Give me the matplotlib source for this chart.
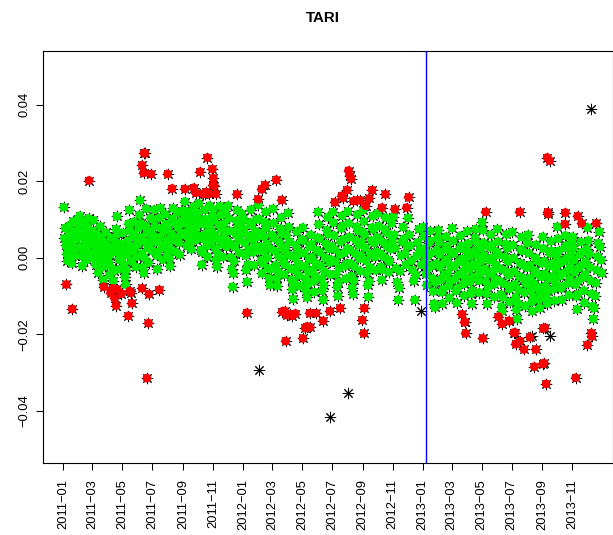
import numpy as np
import pandas as pd
import matplotlib
matplotlib.use("Agg")
import matplotlib.pyplot as plt
import matplotlib.dates as mdates

plt.rcParams['font.family'] = ['Liberation Sans', 'DejaVu Sans']

# ---------------- data (values in units of 0.001) ----------------
green_months = ['2011-01', '2011-02', '2011-03', '2011-04', '2011-05', '2011-06',
                '2011-07', '2011-08', '2011-09', '2011-10', '2011-11', '2011-12',
                '2012-01', '2012-02', '2012-03', '2012-04', '2012-05', '2012-06',
                '2012-07', '2012-08', '2012-09', '2012-10', '2012-11', '2012-12',
                '2013-01', '2013-02', '2013-03', '2013-04', '2013-05', '2013-06',
                '2013-07', '2013-08', '2013-09', '2013-10', '2013-11', '2013-12']

green_values = [
    [13.2, 5.1, 7.8, 3.2, 1.0, -0.8, 2.5, 6.0, 8.4, 4.3, 0.2, -1.5, 3.8, 9.5, 6.7, 2.0, 0.5, 4.8, 7.2, 10.1, 5.5],
    [8.8, 11.0, 6.2, 3.0, 0.4, -2.1, 1.8, 5.0, 9.6, 7.4, 2.6, -0.6, 4.1, 8.0, 10.3, 6.5, 1.2, 3.5, 5.8, 0.0],
    [7.0, 9.8, 4.5, 1.3, -1.8, 2.9, 6.1, 0.4, -3.9, -1.0, 3.3, 8.2, 5.2, 1.9, -2.5, -5.8, -0.3, 2.2, 4.0, 6.6, 0.8, -2.0],
    [3.0, -1.2, -4.5, 0.8, 5.2, 2.4, -2.8, -6.0, -3.5, 1.5, 4.0, 7.5, 10.8, 6.2, 2.0, -0.5, -3.0, 1.0, 3.6, 0.0],
    [6.5, 2.3, -1.8, -5.0, -7.0, -3.2, 0.8, 4.4, 8.9, 12.5, 7.2, 3.0, -0.9, 1.7, 5.6, 9.4, 6.1, 2.5, -2.4, 0.3, 4.0],
    [3.5, 7.8, 11.2, 15.0, 9.0, 5.4, 1.1, -2.5, -4.0, 0.0, 4.2, 8.3, 12.8, 6.7, 2.6, -1.3, 3.1, 7.0, 10.4, 5.0, 1.8],
    [6.0, 9.9, 12.6, 8.2, 4.1, 0.6, -3.0, 1.5, 5.3, 10.5, 13.0, 7.6, 3.2, -0.5, 2.8, 6.9, 11.4, 8.8, 4.6, 1.0],
    [7.3, 3.4, -0.2, -2.2, 2.1, 6.2, 10.2, 12.9, 9.1, 5.0, 1.6, 4.5, 8.6, 11.8, 7.9, 3.9, 0.8, 5.8, 9.6, 12.2, 6.4],
    [9.0, 12.3, 14.7, 10.8, 6.6, 3.1, 5.4, 8.8, 12.0, 7.4, 4.0, 2.2, 6.0, 9.9, 13.4, 11.1, 7.0, 4.6, 8.2, 10.6],
    [11.8, 14.2, 9.5, 5.6, 2.0, -1.8, 1.4, 4.9, 8.7, 12.5, 10.1, 6.3, 3.0, 0.3, 5.0, 9.2, 13.6, 7.7, 4.2, 6.9, 11.0],
    [12.6, 9.8, 6.0, 2.4, -0.6, -2.3, 1.2, 4.8, 8.6, 13.5, 11.2, 7.4, 3.5, 0.2, 5.2, 9.0, 12.1, 6.8, 2.9, 4.4],
    [13.6, 10.3, 7.0, 3.6, 0.1, -3.0, -7.6, -4.1, -0.9, 2.8, 6.2, 9.7, 12.4, 8.0, 4.5, 1.3, 5.7, 9.1, 11.5, 6.6],
    [10.4, 7.5, 3.9, 0.6, -3.2, -6.3, -1.8, 2.2, 5.8, 9.2, 12.6, 8.5, 4.7, 1.4, -2.0, 3.0, 6.9, 10.0, 5.3, 1.9],
    [13.8, 10.1, 6.4, 2.9, -0.7, -4.1, -1.5, 1.6, 5.5, 9.3, 12.0, 7.8, 3.6, 0.0, -2.8, -5.3, -7.1, -3.0, 2.2, 6.0],
    [12.8, 9.0, 5.1, 1.7, -2.0, -5.4, -7.4, -3.6, 0.3, 4.0, 7.6, 10.5, 6.3, 2.4, -1.0, -4.4, -1.8, 2.8, 5.9, 0.9],
    [11.7, 8.0, 4.2, 0.6, -2.9, -5.8, -8.3, -10.8, -6.5, -3.3, 0.0, 3.3, 6.8, 2.0, -1.6, -4.6, -7.4, -2.2, 1.2, 4.8],
    [7.9, 4.5, 1.2, -2.2, -5.6, -8.8, -10.4, -7.0, -3.8, -0.4, 2.8, 6.0, 3.5, 0.1, -3.2, -6.2, -9.0, -4.8, -1.4, 2.0, 5.2],
    [12.0, 8.7, 5.0, 1.4, -2.1, -5.5, -8.6, -11.0, -7.2, -3.6, 0.0, 3.6, 7.2, 10.6, 6.1, 2.3, -1.2, -4.4, -0.5, 3.0],
    [11.9, 9.2, 5.8, 2.2, -1.0, -4.3, -7.6, -10.0, -6.4, -2.7, 0.8, 4.2, 7.7, 11.0, 8.4, 4.8, 1.3, -2.2, -5.5, -1.6, 2.4],
    [12.1, 9.0, 5.4, 2.0, -1.5, -4.8, -7.9, -9.5, -5.9, -2.3, 1.1, 4.6, 8.1, 11.3, 7.0, 3.3, -0.2, -3.5, 0.6, 4.0, 6.8],
    [12.4, 9.5, 6.1, 2.6, -0.8, -4.0, -7.2, -10.2, -6.2, -2.5, 1.0, 4.5, 7.9, 10.9, 7.4, 3.8, 0.2, -3.3, 1.5, 5.3],
    [11.6, 8.3, 4.7, 1.1, -2.4, -5.8, -3.1, 0.3, 3.9, 7.4, 10.5, 6.6, 2.9, -0.5, -3.8, -1.0, 2.2, 5.8, 9.0, 4.2],
    [10.7, 6.0, 2.5, -2.8, -6.4, -11.0, -7.8, -3.5, 0.6, 4.2, 8.0, 5.0, 1.0, -1.8, 3.0],
    [10.4, 6.0, 3.2, -0.8, -3.2, -6.0, -11.0, -4.5, 0.5, 4.0, 7.5, 2.0, -1.8, 1.2],
    [8.0, 5.6, 2.4, -0.9, -4.3, -7.1, -3.0, 0.5, 3.9, 7.0, 4.4, 1.2, -2.2, -5.4, -8.8, -12.0, -13.0, -6.5, -1.5, 2.0, 5.2],
    [7.2, 4.0, 0.8, -2.5, -5.8, -9.0, -12.0, -8.2, -4.6, -1.2, 2.1, 5.5, 3.0, -0.4, -3.9, -7.3, -10.5, -6.0, -2.0, 1.5],
    [7.7, 4.4, 1.1, -2.3, -5.6, -8.7, -11.8, -8.0, -4.5, -1.1, 2.4, 5.8, 3.1, -0.3, -3.6, -6.9, -9.9, -5.2, -1.8, 1.6],
    [6.9, 3.7, 0.3, -3.0, -6.3, -9.4, -12.0, -8.6, -5.0, -1.6, 1.8, 5.2, 7.5, 4.0, 0.6, -2.7, -6.0, -9.1, -4.3, -0.8, 2.5],
    [9.3, 7.2, 3.9, 0.5, -2.9, -6.2, -9.4, -12.0, -7.9, -4.2, -0.7, 2.7, 6.0, 3.4, 0.0, -3.5, -7.0, -10.3, -5.5, -1.8, 1.6],
    [7.5, 4.2, 0.7, -2.8, -6.2, -9.6, -12.8, -14.0, -10.4, -6.8, -3.3, 0.2, 3.6, 6.1, 2.5, -1.0, -4.6, -8.2, -11.6, -7.4, -3.8],
    [6.7, 3.3, -0.1, -3.6, -7.0, -10.3, -13.6, -16.0, -12.0, -8.4, -4.9, -1.4, 2.1, 5.4, 1.8, -1.9, -5.5, -9.1, -12.6, -6.8, -2.6],
    [3.8, 6.0, 1.2, -2.0, -5.3, -8.5, -11.6, -14.0, -10.2, -6.7, -3.3, 0.0, 3.4, -0.8, -4.2, -7.7, -11.0, -13.2, -9.0, -5.0, -1.5],
    [5.5, 2.4, -0.9, -4.2, -7.4, -10.5, -12.0, -8.8, -5.5, -2.2, 1.1, 4.3, 1.8, -1.5, -4.9, -8.2, -11.2, -6.5, -3.0, 0.4],
    [8.1, 5.0, 1.8, -1.5, -4.8, -8.0, -11.0, -7.5, -4.1, -0.8, 2.5, 5.8, 3.2, -0.1, -3.4, -6.7, -9.8, -5.6, -2.3, 1.0, 4.5],
    [5.5, 2.6, -0.6, -3.8, -7.0, -10.1, -13.5, -9.6, -6.0, -2.6, 0.8, 4.1, 1.4, -1.9, -5.2, -8.6, -11.8, -4.4, -1.0, 2.3],
    [7.9, 4.5, 1.0, -2.5, -6.0, -9.4, -12.7, -16.0, -13.2, -10.0, -6.6, -3.2, 0.3, 3.8, 6.8, 2.9, -0.6, -4.0],
]

red_dates = ['2011-02-22', '2011-06-10', '2011-06-14', '2011-06-16', '2011-06-13', '2011-06-28',
             '2011-08-01', '2011-08-10', '2011-09-05', '2011-09-23', '2011-09-27', '2011-10-06',
             '2011-10-12', '2011-10-17', '2011-10-19', '2011-10-21', '2011-10-24', '2011-10-31',
             '2011-11-02', '2011-11-01', '2011-11-04', '2011-11-07', '2011-12-20', '2012-02-01',
             '2012-02-08', '2012-02-15', '2012-03-09', '2012-03-20', '2012-07-06', '2012-07-20',
             '2012-07-23', '2012-07-31', '2012-08-03', '2012-08-06', '2012-08-08', '2012-08-13',
             '2012-08-20', '2012-08-27', '2012-09-07', '2012-09-14', '2012-09-20', '2012-10-10',
             '2012-10-17', '2012-11-05', '2012-11-29', '2012-12-03', '2013-05-09', '2013-07-17',
             '2013-09-11', '2013-09-16', '2013-09-12', '2013-09-13', '2013-10-17', '2013-10-18',
             '2013-11-12', '2013-11-20', '2013-12-20',
             '2011-01-07', '2011-01-19', '2011-03-24', '2011-04-07', '2011-04-11', '2011-04-15',
             '2011-04-18', '2011-04-20', '2011-04-29', '2011-05-16', '2011-05-18', '2011-05-20',
             '2011-05-13', '2011-06-10', '2011-06-24', '2011-06-23', '2011-06-20', '2011-07-15',
             '2012-01-09', '2012-03-21', '2012-03-26', '2012-03-30', '2012-03-28', '2012-04-05',
             '2012-04-11', '2012-04-17', '2012-05-02', '2012-05-07', '2012-05-11', '2012-05-17',
             '2012-05-16', '2012-05-29', '2012-06-12', '2012-06-26', '2012-07-17', '2012-08-31',
             '2012-09-03', '2012-09-04', '2013-03-22', '2013-03-27', '2013-03-28', '2013-03-29',
             '2013-05-03', '2013-06-04', '2013-06-11', '2013-06-25', '2013-06-26', '2013-07-05',
             '2013-07-08', '2013-07-09', '2013-07-18', '2013-07-26', '2013-08-07', '2013-08-19',
             '2013-08-16', '2013-09-02', '2013-09-05', '2013-09-09', '2013-09-03', '2013-09-06',
             '2013-11-08', '2013-12-02', '2013-12-10', '2013-12-11']
red_values = [20.2, 24.2, 27.4, 27.3, 22.2, 21.9,
              21.9, 18.1, 18.0, 18.3, 17.0, 22.5,
              16.7, 16.8, 17.2, 26.2, 16.7, 23.2,
              20.8, 19.0, 18.8, 16.7, 16.6, 15.3,
              17.9, 19.0, 20.4, 15.1, 14.5, 16.2,
              15.7, 17.7, 22.8, 21.4, 20.6, 14.8,
              15.0, 15.0, 13.6, 15.5, 17.7, 13.1,
              16.6, 12.7, 13.1, 15.8, 12.0, 12.0,
              26.2, 25.4, 11.9, 11.4, 8.8, 11.8,
              10.9, 9.0, 9.0,
              -7.0, -13.4, -7.6, -9.2, -8.0, -10.6,
              -12.5, -8.2, -9.4, -8.7, -9.2, -11.9,
              -15.2, -8.0, -9.5, -17.1, -31.5, -8.4,
              -14.4, -14.1, -13.9, -15.0, -21.8, -14.8,
              -15.2, -14.6, -21.1, -18.4, -18.0, -18.2,
              -14.5, -14.5, -16.5, -14.0, -13.2, -16.3,
              -19.8, -13.2, -14.8, -16.9, -16.8, -19.8,
              -21.1, -15.4, -17.3, -16.5, -16.6, -19.6,
              -19.6, -22.6, -21.8, -24.0, -20.8, -24.0,
              -28.5, -27.8, -27.6, -33.0, -18.5, -18.3,
              -31.4, -22.8, -19.7, -20.6]

black_dates = ['2012-02-03', '2012-06-27', '2012-08-02', '2012-12-28', '2013-08-12', '2013-09-16', '2013-12-09']
black_values = [-29.5, -41.7, -35.3, -13.9, -20.5, -20.4, 39.0]

break_date = '2013-01-08'
tick_months = ['2011-01', '2011-03', '2011-05', '2011-07', '2011-09', '2011-11',
               '2012-01', '2012-03', '2012-05', '2012-07', '2012-09', '2012-11',
               '2013-01', '2013-03', '2013-05', '2013-07', '2013-09', '2013-11']
y_ticks = [-0.04, -0.02, 0.0, 0.02, 0.04]
y_tick_labels = ['\u22120.04', '\u22120.02', '0.00', '0.02', '0.04']
title = 'TARI'

# ---------------- build point arrays ----------------
gx, gy = [], []
for m, vals in zip(green_months, green_values):
    start = pd.Timestamp(m + '-01')
    end = start + pd.offsets.MonthBegin(1)
    n = len(vals)
    for i, v in enumerate(vals):
        d = start + (end - start) * ((i + 0.5) / n)
        gx.append(mdates.date2num(d))
        gy.append(v / 1000.0)
gx = np.array(gx); gy = np.array(gy)
rx = mdates.date2num(pd.to_datetime(red_dates)); ry = np.array(red_values) / 1000.0
bx = mdates.date2num(pd.to_datetime(black_dates)); by = np.array(black_values) / 1000.0

W, H = 613, 535
fig = plt.figure(figsize=(W / 100, H / 100), dpi=100)
L, R_, T, B = 42.5, 613, 51.3, 463
ax = fig.add_axes([L / W, 1 - B / H, (R_ - L) / W, (B - T) / H])

allx = np.concatenate([gx, rx, bx]); ally = np.concatenate([gy, ry, by])
ax.scatter(allx, ally, marker=(8, 2, 0), s=58, c='black', linewidths=0.7, zorder=2)
ax.scatter(gx, gy, marker='o', s=40, c='#00EE00', edgecolors='none', zorder=3)
ax.scatter(rx, ry, marker='o', s=40, c='#FF0000', edgecolors='none', zorder=4)
ax.axvline(mdates.date2num(pd.Timestamp(break_date)), color='#0000FF', lw=1.0, zorder=5)

x0 = mdates.date2num(pd.Timestamp('2011-01-01'))
ppd = 0.4916
ax.set_xlim(x0 - (63.4 - L) / ppd, x0 + (R_ - 63.4) / ppd)
ax.set_ylim(-0.0537, 0.054)

ax.set_xticks(mdates.date2num(pd.to_datetime([m + '-01' for m in tick_months])))
ax.set_xticklabels([m.replace('-', '\u2212') for m in tick_months], rotation=90, fontsize=9.3)
ax.set_yticks(y_ticks)
ax.set_yticklabels(y_tick_labels, rotation=90, va='center', fontsize=9.3)
ax.tick_params(axis='both', length=5, width=0.75, direction='out', color='black')
ax.tick_params(axis='x', pad=6.5)
ax.tick_params(axis='y', pad=4)
for s in ax.spines.values():
    s.set_linewidth(0.8)
    s.set_color('black')

fig.text(((L + 603) / 2) / W, 1 - 18.5 / H, title, ha='center', va='center',
         fontsize=10.8, fontweight='bold')

fig.savefig('out.png', dpi=100)
